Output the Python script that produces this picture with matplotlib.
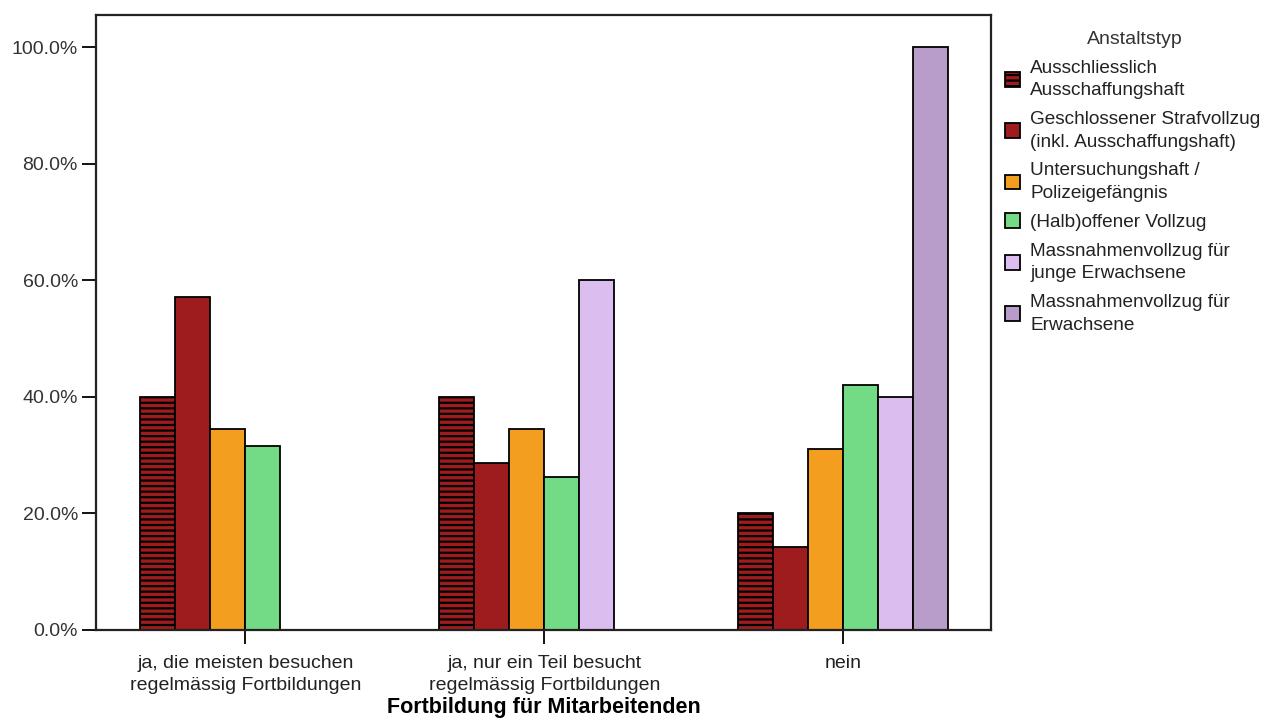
import matplotlib
matplotlib.use("Agg")
import matplotlib.pyplot as plt
import numpy as np

plt.rcParams['font.family'] = ['Liberation Sans', 'DejaVu Sans']
plt.rcParams['hatch.linewidth'] = 1.6
plt.rcParams['hatch.color'] = 'black'

categories = ["ja, die meisten besuchen\nregelmässig Fortbildungen",
              "ja, nur ein Teil besucht\nregelmässig Fortbildungen",
              "nein"]
series_names = ["Ausschliesslich\nAusschaffungshaft",
                "Geschlossener Strafvollzug\n(inkl. Ausschaffungshaft)",
                "Untersuchungshaft /\nPolizeigefängnis",
                "(Halb)offener Vollzug",
                "Massnahmenvollzug für\njunge Erwachsene",
                "Massnahmenvollzug für\nErwachsene"]
legend_title = "Anstaltstyp"
x_title = "Fortbildung für Mitarbeitenden"
values = [
    [40.0, 40.0, 20.0],
    [57.1, 28.6, 14.3],
    [34.5, 34.5, 31.0],
    [31.6, 26.3, 42.1],
    [0.0, 60.0, 40.0],
    [0.0, 0.0, 100.0],
]
colors = ["#9E1B1E", "#9E1B1E", "#F39E1F", "#73DA85", "#DCBDF0", "#B89DCB"]
hatches = ["---", None, None, None, None, None]
yticks = [0, 20, 40, 60, 80, 100]

FS = 14

fig = plt.figure(figsize=(12.68, 7.2), dpi=100)
ax = fig.add_axes([96/1268, 90/720, (991-96)/1268, (630-15)/720])

x = np.arange(len(categories))
w = 35/299
n = len(series_names)
for i, (name, vals) in enumerate(zip(series_names, values)):
    off = (i - (n-1)/2) * w
    ax.bar(x + off, vals, width=w, color=colors[i], edgecolor='black',
           linewidth=1.3, hatch=hatches[i], label=name, zorder=2)

ax.set_xlim(-0.5, 2.495)
ax.set_ylim(0, 105.5)
ax.set_yticks(yticks)
ax.set_yticklabels([f"{t:.1f}%" for t in yticks], color='#333333')
ax.set_xticks(x)
ax.set_xticklabels(categories, color='#222222', linespacing=1.4)
ax.tick_params(axis='both', labelsize=FS, direction='out', length=10, width=1.3)
ax.tick_params(axis='y', pad=3)
ax.tick_params(axis='x', pad=8)
for s in ax.spines.values():
    s.set_linewidth(1.6)
    s.set_color('#222222')
ax.set_xlabel(x_title, fontsize=15.5, fontweight='bold', labelpad=2)

leg = ax.legend(loc='upper left', bbox_to_anchor=(1.0067, 0.940), frameon=False,
                fontsize=13.7, handlelength=0.8, handleheight=0.8, handletextpad=0.55,
                labelspacing=0.6, borderaxespad=0.0)
for t in leg.get_texts():
    t.set_color('#222222')
    t.set_linespacing(1.45)
fig.text(1135/1268, 1 - 40/720, legend_title, fontsize=FS, color='#333333',
         ha='center', va='center')

fig.savefig("out.png", dpi=100)
